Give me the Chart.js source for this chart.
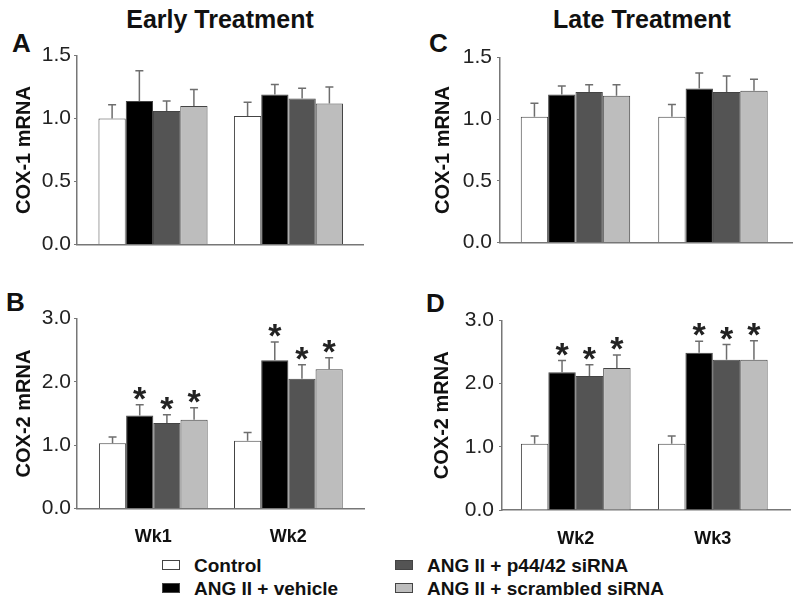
<!DOCTYPE html>
<html>
<head>
<meta charset="utf-8">
<script src="https://cdn.jsdelivr.net/npm/chart.js@4.4.0/dist/chart.umd.min.js"></script>
<style>
  body { margin: 0; background: #fff; font-family: 'Liberation Sans', Arial, sans-serif; }
  #wrap { position: relative; width: 800px; height: 603px; overflow: hidden; }
  canvas { position: absolute; }
  .title { position: absolute; width: 400px; text-align: center; font-weight: bold; font-size: 25px; line-height: 28px; color: #111; }
  .letter { position: absolute; font-weight: bold; font-size: 26px; line-height: 26px; color: #111; }
  .leg { position: absolute; font-weight: bold; font-size: 19px; line-height: 22px; color: #111; white-space: nowrap; }
  .leg span { display: inline-block; width: 16px; height: 8px; border: 1px solid #444; margin-right: 14px; vertical-align: 2px; }
</style>
</head>
<body>
<div id="wrap">
  <div class="title" style="left:20px; top:5px;">Early Treatment</div>
  <div class="title" style="left:442px; top:5px;">Late Treatment</div>
  <div class="letter" style="left:12px; top:30px;">A</div>
  <div class="letter" style="left:6px; top:289px;">B</div>
  <div class="letter" style="left:429px; top:30px;">C</div>
  <div class="letter" style="left:426px; top:290px;">D</div>

  <canvas id="panelA" width="400" height="220" style="left:0; top:40px;"></canvas>
  <canvas id="panelB" width="400" height="270" style="left:0; top:280px;"></canvas>
  <canvas id="panelC" width="400" height="220" style="left:400px; top:40px;"></canvas>
  <canvas id="panelD" width="400" height="270" style="left:400px; top:280px;"></canvas>

  <div id="legend"></div>
</div>
<script>
// treatment groups and colours
const groups = ['Control', 'ANG II + vehicle', 'ANG II + p44/42 siRNA', 'ANG II + scrambled siRNA'];
const groupColors = ['#ffffff', '#000000', '#545454', '#bdbdbd'];

// x positions 1, 2 with their week names
const weekPos = [1, 2];
const earlyWeeks = ['Wk1', 'Wk2'];
const lateWeeks = ['Wk2', 'Wk3'];

// values per group: [first week, second week]
const cox1EarlyMean = [[1.00, 1.02], [1.14, 1.19], [1.06, 1.16], [1.10, 1.12]];
const cox1EarlyErr  = [[0.11, 0.11], [0.24, 0.08], [0.08, 0.08], [0.13, 0.13]];

const cox2EarlyMean = [[1.03, 1.07], [1.47, 2.34], [1.35, 2.05], [1.40, 2.20]];
const cox2EarlyErr  = [[0.10, 0.13], [0.17, 0.29], [0.13, 0.22], [0.19, 0.18]];

const cox1LateMean = [[1.02, 1.02], [1.20, 1.25], [1.22, 1.22], [1.19, 1.23]];
const cox1LateErr  = [[0.11, 0.10], [0.07, 0.125], [0.06, 0.13], [0.09, 0.095]];

const cox2LateMean = [[1.05, 1.05], [2.18, 2.49], [2.12, 2.38], [2.25, 2.38]];
const cox2LateErr  = [[0.12, 0.12], [0.185, 0.18], [0.18, 0.24], [0.205, 0.30]];

// significant vs control (asterisk)
const noStars = [[false, false], [false, false], [false, false], [false, false]];
const cox2Stars = [[false, false], [true, true], [true, true], [true, true]];

const cox1Ticks = [0, 0.5, 1.0, 1.5];
const cox2Ticks = [0, 1.0, 2.0, 3.0];

const FONT = "'Liberation Sans', Arial, sans-serif";

const errorBars = {
  id: 'errorBars',
  afterDatasetsDraw(chart) {
    const ctx = chart.ctx;
    const y = chart.scales.y;
    chart.data.datasets.forEach((ds, i) => {
      const meta = chart.getDatasetMeta(i);
      meta.data.forEach((bar, j) => {
        const top = y.getPixelForValue(ds.data[j] + ds.errors[j]);
        ctx.save();
        ctx.strokeStyle = '#6e6e6e';
        ctx.lineWidth = 1.5;
        ctx.beginPath();
        ctx.moveTo(bar.x, bar.y);
        ctx.lineTo(bar.x, top);
        ctx.moveTo(bar.x - 4, top);
        ctx.lineTo(bar.x + 4, top);
        ctx.stroke();
        if (ds.stars[j]) {
          ctx.fillStyle = '#222';
          ctx.font = 'bold 34px ' + FONT;
          ctx.textAlign = 'center';
          ctx.textBaseline = 'alphabetic';
          const m = ctx.measureText('*');
          ctx.fillText('*', bar.x, top - 5 - m.actualBoundingBoxDescent);
        }
        ctx.restore();
      });
    });
  }
};

function makePanel(id, weeks, means, errs, stars, ticks, yTitle, box) {
  const datasets = groups.map((g, k) => ({
    label: g,
    data: means[k],
    errors: errs[k],
    stars: stars[k],
    backgroundColor: groupColors[k],
    borderColor: '#444',
    borderWidth: 1,
    categoryPercentage: box.catPct,
    barPercentage: 1.0
  }));
  return new Chart(document.getElementById(id), {
    type: 'bar',
    data: { labels: weekPos, datasets: datasets },
    plugins: [errorBars],
    options: {
      responsive: false,
      animation: false,
      layout: { padding: { top: box.padTop, right: box.padRight, left: 0, bottom: 0 } },
      plugins: { legend: { display: false }, tooltip: { enabled: false } },
      scales: {
        x: {
          type: 'linear',
          offset: false,
          min: box.xMin,
          max: box.xMax,
          afterBuildTicks(s) { s.ticks = weekPos.map(v => ({ value: v })); },
          grid: { display: false },
          border: { display: true, color: '#777', width: 1.5 },
          ticks: { display: box.showX, color: '#111', padding: 10, font: { family: FONT, size: 18, weight: 'bold' },
                   callback: v => weeks[weekPos.indexOf(v)] },
          afterFit(s) { s.height = box.xHeight; }
        },
        y: {
          min: 0,
          max: ticks[ticks.length - 1],
          afterBuildTicks(s) { s.ticks = ticks.map(v => ({ value: v })); },
          grid: { drawOnChartArea: false, drawTicks: true, tickLength: 3, color: '#777' },
          border: { display: true, color: '#777', width: 1.5 },
          ticks: { color: '#222', padding: box.tickPad, font: { family: FONT, size: 21 }, callback: v => v.toFixed(1) },
          title: { display: true, text: yTitle, color: '#111', font: { family: FONT, size: 20, weight: 'bold' }, padding: { top: box.titleOff, bottom: 0 } },
          afterFit(s) { s.width = box.yWidth; }
        }
      }
    }
  });
}

makePanel('panelA', earlyWeeks, cox1EarlyMean, cox1EarlyErr, noStars, cox1Ticks, 'COX-1 mRNA',
  { yWidth: 77, padTop: 15.5, padRight: 37, xHeight: 13.5, showX: false, catPct: 0.805, xMin: 0.439, xMax: 2.55, tickPad: 3, titleOff: 12 });
makePanel('panelB', earlyWeeks, cox2EarlyMean, cox2EarlyErr, cox2Stars, cox2Ticks, 'COX-2 mRNA',
  { yWidth: 77, padTop: 38.5, padRight: 36, xHeight: 41.5, showX: true, catPct: 0.805, xMin: 0.435, xMax: 2.56, tickPad: 3, titleOff: 12 });
makePanel('panelC', lateWeeks, cox1LateMean, cox1LateErr, noStars, cox1Ticks, 'COX-1 mRNA',
  { yWidth: 100, padTop: 14.5, padRight: 8, xHeight: 14.5, showX: false, catPct: 0.796, xMin: 0.451, xMax: 2.575, tickPad: 5, titleOff: 31 });
makePanel('panelD', lateWeeks, cox2LateMean, cox2LateErr, cox2Stars, cox2Ticks, 'COX-2 mRNA',
  { yWidth: 102, padTop: 40.5, padRight: 10, xHeight: 40, showX: true, catPct: 0.80, xMin: 0.462, xMax: 2.563, tickPad: 5, titleOff: 30 });

// legend, two columns
const legendPos = [[162, 555], [162, 578], [395, 555], [395, 578]];
const legend = document.getElementById('legend');
groups.forEach((g, k) => {
  const d = document.createElement('div');
  d.className = 'leg';
  d.style.left = legendPos[k][0] + 'px';
  d.style.top = legendPos[k][1] + 'px';
  d.innerHTML = '<span style="background:' + groupColors[k] + '"></span>' + g;
  legend.appendChild(d);
});
</script>
</body>
</html>
